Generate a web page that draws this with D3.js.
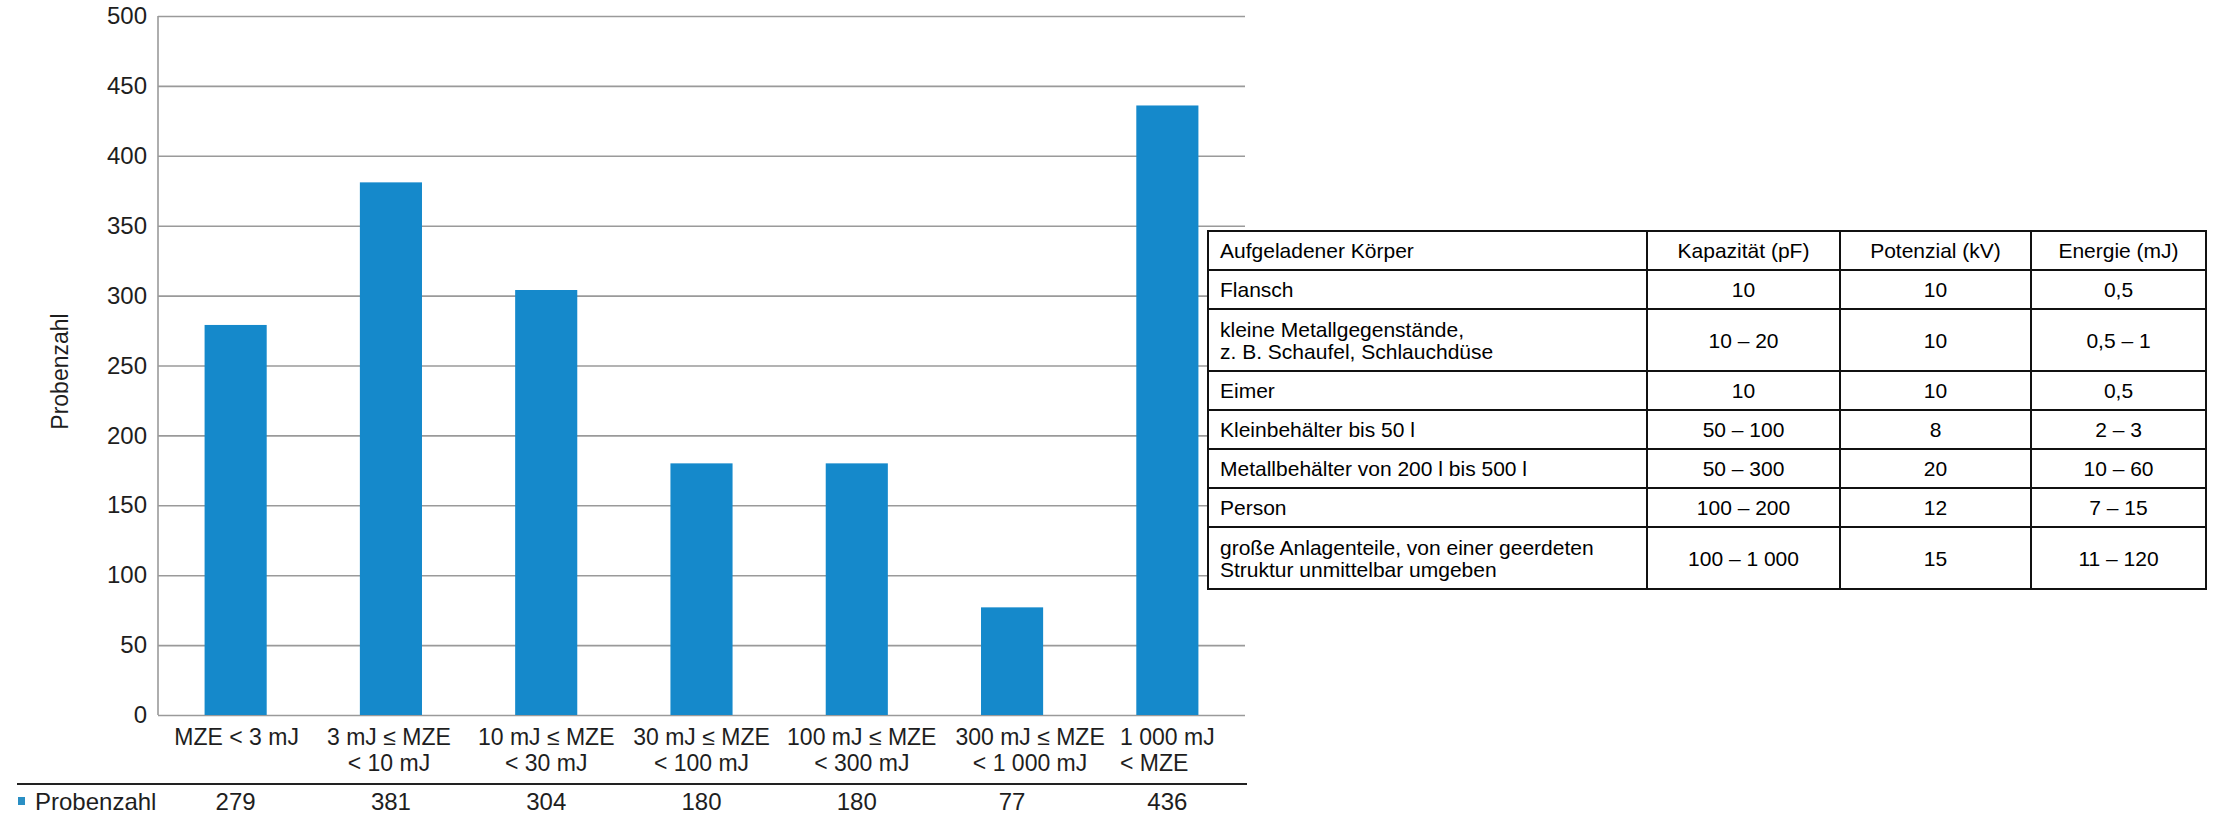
<!DOCTYPE html>
<html>
<head>
<meta charset="utf-8">
<script src="https://cdn.jsdelivr.net/npm/d3@7"></script>
<style>
  html, body { margin: 0; padding: 0; background: #ffffff; }
  svg { display: block; font-family: "Liberation Sans", Arial, sans-serif; }
</style>
</head>
<body>
<svg id="chart" width="2216" height="814"></svg>
<script>
// ---------------- DATA ----------------
const categories = [
  ["MZE < 3 mJ"],
  ["3 mJ ≤ MZE", "< 10 mJ"],
  ["10 mJ ≤ MZE", "< 30 mJ"],
  ["30 mJ ≤ MZE", "< 100 mJ"],
  ["100 mJ ≤ MZE", "< 300 mJ"],
  ["300 mJ ≤ MZE", "< 1 000 mJ"],
  ["1 000 mJ", "< MZE"]
];
const probenzahl = [279, 381, 304, 180, 180, 77, 436];
const yTicks = [0, 50, 100, 150, 200, 250, 300, 350, 400, 450, 500];
const seriesName = "Probenzahl";
const yAxisTitle = "Probenzahl";

const tableHeader = ["Aufgeladener Körper", "Kapazität (pF)", "Potenzial (kV)", "Energie (mJ)"];
const tableKoerper = [
  ["Flansch"],
  ["kleine Metallgegenstände,", "z. B. Schaufel, Schlauchdüse"],
  ["Eimer"],
  ["Kleinbehälter bis 50 l"],
  ["Metallbehälter von 200 l bis 500 l"],
  ["Person"],
  ["große Anlagenteile, von einer geerdeten", "Struktur unmittelbar umgeben"]
];
const tableKapazitaet = ["10", "10 – 20", "10", "50 – 100", "50 – 300", "100 – 200", "100 – 1 000"];
const tablePotenzial = ["10", "10", "10", "8", "20", "12", "15"];
const tableEnergie = ["0,5", "0,5 – 1", "0,5", "2 – 3", "10 – 60", "7 – 15", "11 – 120"];

// ---------------- LAYOUT ----------------
const svg = d3.select("#chart");
const plot = { left: 158, right: 1245, top: 16, bottom: 715 };
const barColor = "#1589cb";
const gridColor = "#9a9a9a";
const textColor = "#1e1e1e";

const x = d3.scaleBand()
  .domain(d3.range(categories.length))
  .range([plot.left, plot.right])
  .paddingInner(0.6)
  .paddingOuter(0.3);

const y = d3.scaleLinear()
  .domain([0, 500])
  .range([plot.bottom, plot.top]);

// gridlines + y labels
const yAxis = d3.axisLeft(y)
  .tickValues(yTicks)
  .tickSize(-(plot.right - plot.left))
  .tickPadding(11)
  .tickFormat(d3.format("d"));

const gy = svg.append("g")
  .attr("transform", `translate(${plot.left},0)`)
  .call(yAxis);
gy.select(".domain").remove();
gy.selectAll(".tick line")
  .attr("stroke", gridColor)
  .attr("stroke-width", 1.6);
gy.selectAll(".tick text")
  .attr("fill", textColor)
  .style("font-size", "24px")
  .style("font-family", "'Liberation Sans', Arial, sans-serif");

// left axis line
svg.append("line")
  .attr("x1", plot.left).attr("x2", plot.left)
  .attr("y1", plot.top).attr("y2", plot.bottom)
  .attr("stroke", gridColor).attr("stroke-width", 1.6);

// y axis title
svg.append("text")
  .attr("transform", `translate(68,${(plot.top + plot.bottom) / 2 + 6}) rotate(-90)`)
  .attr("text-anchor", "middle")
  .attr("fill", textColor)
  .style("font-size", "23px")
  .text(yAxisTitle);

// bars
svg.append("g").selectAll("rect")
  .data(probenzahl)
  .join("rect")
  .attr("x", (d, i) => x(i))
  .attr("width", x.bandwidth())
  .attr("y", d => y(d))
  .attr("height", d => y(0) - y(d))
  .attr("fill", barColor);

// category labels (x axis), one text element per category with line tspans
const labelShift = [1, -2, 0, 0, 5, 18, 0];
const xAxis = d3.axisBottom(x).tickSize(0).tickFormat("");
const gx = svg.append("g")
  .attr("transform", `translate(0,${plot.bottom})`)
  .call(xAxis);
gx.select(".domain").remove();

const labelG = svg.append("g")
  .attr("fill", textColor)
  .style("font-size", "23px");
categories.forEach((lines, i) => {
  const cx = x(i) + x.bandwidth() / 2 + labelShift[i];
  const t = labelG.append("text")
    .attr("y", 745)
    .attr("text-anchor", "middle");
  const first = t.append("tspan").attr("x", cx).text(lines[0]);
  if (lines.length > 1) {
    const second = t.append("tspan").attr("x", cx).attr("dy", 26).text(lines[1]);
    if (i === categories.length - 1) {
      // last label: second line aligned to the left edge of the first line
      const w = first.node().getComputedTextLength();
      const w2 = second.node().getComputedTextLength();
      second.attr("x", cx - w / 2 + w2 / 2);
    }
  }
});

// data table row under the chart
svg.append("line")
  .attr("x1", 17).attr("x2", 1247)
  .attr("y1", 784).attr("y2", 784)
  .attr("stroke", "#222").attr("stroke-width", 1.8);

svg.append("rect")
  .attr("x", 18).attr("y", 797)
  .attr("width", 7).attr("height", 8)
  .attr("fill", "#2a8fc4");

svg.append("text")
  .attr("x", 35).attr("y", 810)
  .attr("fill", textColor)
  .style("font-size", "24px")
  .text(seriesName);

svg.append("g").selectAll("text")
  .data(probenzahl)
  .join("text")
  .attr("x", (d, i) => x(i) + x.bandwidth() / 2)
  .attr("y", 810)
  .attr("text-anchor", "middle")
  .attr("fill", textColor)
  .style("font-size", "24px")
  .text(d => d);

// ---------------- TABLE ----------------
const colEdges = [1208, 1647, 1840, 2031, 2206];
const tableTop = 231;
const singleH = 39, doubleH = 62;
const lineGap = 22;
const tableRows = [[[tableHeader[0]], tableHeader[1], tableHeader[2], tableHeader[3]]]
  .concat(tableKoerper.map((k, i) => [k, tableKapazitaet[i], tablePotenzial[i], tableEnergie[i]]));

const rowEdges = [tableTop];
tableRows.forEach(r => {
  const h = r[0].length > 1 ? doubleH : singleH;
  rowEdges.push(rowEdges[rowEdges.length - 1] + h);
});

const tg = svg.append("g").style("font-size", "21px").attr("fill", "#000");
tg.append("rect")
  .attr("x", colEdges[0]).attr("y", tableTop)
  .attr("width", colEdges[4] - colEdges[0])
  .attr("height", rowEdges[rowEdges.length - 1] - tableTop)
  .attr("fill", "#fff");

tableRows.forEach((r, ri) => {
  const top = rowEdges[ri], bot = rowEdges[ri + 1];
  const cy = (top + bot) / 2;
  const lines = r[0];
  const t = tg.append("text")
    .attr("y", cy + 7.5 - (lines.length - 1) / 2 * lineGap);
  lines.forEach((ln, li) => {
    t.append("tspan")
      .attr("x", colEdges[0] + 12)
      .attr("dy", li === 0 ? 0 : lineGap)
      .text(ln);
  });
  for (let c = 1; c < 4; c++) {
    tg.append("text")
      .attr("x", (colEdges[c] + colEdges[c + 1]) / 2)
      .attr("y", cy + 7.5)
      .attr("text-anchor", "middle")
      .text(r[c]);
  }
});

const borderColor = "#111";
rowEdges.forEach(yv => {
  tg.append("line")
    .attr("x1", colEdges[0] - 1).attr("x2", colEdges[4] + 1)
    .attr("y1", yv).attr("y2", yv)
    .attr("stroke", borderColor).attr("stroke-width", 2);
});
colEdges.forEach(xv => {
  tg.append("line")
    .attr("x1", xv).attr("x2", xv)
    .attr("y1", rowEdges[0] - 1).attr("y2", rowEdges[rowEdges.length - 1] + 1)
    .attr("stroke", borderColor).attr("stroke-width", 2);
});
</script>
</body>
</html>
